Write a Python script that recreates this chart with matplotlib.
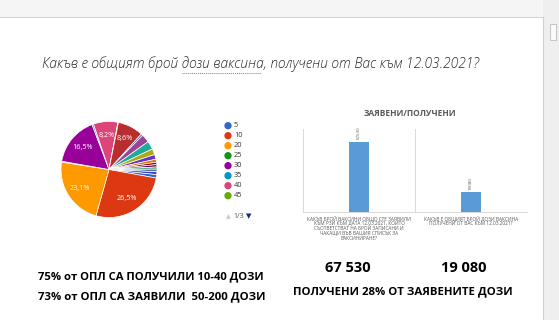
import matplotlib
matplotlib.use("Agg")
import matplotlib.pyplot as plt
from matplotlib.patches import Rectangle
from matplotlib.lines import Line2D

W, H = 559, 320
plt.rcParams['font.family'] = ['Open Sans', 'DejaVu Sans']

# pie: share of GPs (%) by number of doses received, clockwise order
pie_values = [1.2, 26.5, 23.1, 0.3, 16.5, 0.5, 8.2, 0.2, 8.6, 0.6, 2.8, 2.8,
              2.0, 1.6, 1.0, 0.8, 0.8, 0.7, 0.9, 0.9]
pie_colors = ['#3366cc', '#dc3912', '#ff9900', '#109618', '#990099', '#0099c6',
              '#dd4477', '#66aa00', '#b82e2e', '#316395', '#994499', '#22aa99',
              '#aaaa11', '#6633cc', '#e67300', '#8b0707', '#651067', '#329262',
              '#5574a6', '#3b3eac']
legend_labels = ['5', '10', '20', '25', '30', '35', '40', '45']

# bar chart: requested vs received doses
bar_cats = ['КАКЪВ БРОЙ ВАКСИНИ ОБЩО СТЕ ЗАЯВИЛИ\nКЪМ РЗИ КЪМ ДАТА 12.03.2021, КОИТО\n'
            'СЪОТВЕТСТВАТ НА БРОЙ ЗАПИСАНИ И\nЧАКАЩИ ВЪВ ВАШИЯ СПИСЪК ЗА\nВАКСИНИРАНЕ?',
            'КАКЪВ Е ОБЩИЯТ БРОЙ ДОЗИ ВАКСИНА\nПОЛУЧЕНИ ОТ ВАС КЪМ 12.03.2021?']
bar_values = [67530, 19080]

question = 'Какъв е общият брой дози ваксина, получени от Вас към 12.03.2021?'
left_lines = ['75% от ОПЛ СА ПОЛУЧИЛИ 10-40 ДОЗИ', '73% от ОПЛ СА ЗАЯВИЛИ  50-200 ДОЗИ']
totals = ['67 530', '19 080']
summary = 'ПОЛУЧЕНИ 28% ОТ ЗАЯВЕНИТЕ ДОЗИ'


def fx(px):
    return px / W


def fy(py):
    return 1 - py / H


fig = plt.figure(figsize=(W / 100, H / 100), dpi=100)
renderer = fig.canvas.get_renderer()


def fit(t, width):
    w = t.get_window_extent(renderer).width
    t.set_fontsize(t.get_fontsize() * width / w)


# window frame (top band, right scroll area)
fig.add_artist(Rectangle((0, fy(17)), 1, 17 / H, transform=fig.transFigure,
                         facecolor='#f5f5f5', edgecolor='none'))
fig.add_artist(Line2D([0, fx(543)], [fy(17), fy(17)], transform=fig.transFigure,
                      color='#d6d6d6', lw=0.8))
fig.add_artist(Rectangle((fx(543), 0), (W - 543) / W, 1, transform=fig.transFigure,
                         facecolor='#efefef', edgecolor='none'))
fig.add_artist(Line2D([fx(543), fx(543)], [0, fy(17)], transform=fig.transFigure,
                      color='#d0d0d0', lw=0.8))
fig.add_artist(Rectangle((fx(550), fy(40)), 6 / W, 16 / H, transform=fig.transFigure,
                         facecolor='#fafafa', edgecolor='#bdbdbd', lw=0.6))

# question
t = fig.text(fx(260), fy(64), question, style='italic', fontweight='light',
             fontsize=9, color='#2b2b2b', ha='center', va='center')
fit(t, 439)
fig.add_artist(Line2D([fx(182), fx(261)], [fy(72.5), fy(72.5)], transform=fig.transFigure,
                      color='#e05050', lw=0.7, ls=(0, (1, 1))))

# pie
ax = fig.add_axes([fx(61), fy(217.5), 96 / W, 96 / H])
ax.pie(pie_values, colors=pie_colors, startangle=-6, counterclock=False,
       wedgeprops=dict(edgecolor='white', linewidth=0.5),
       autopct=lambda p: f'{p:.1f}%'.replace('.', ',') if p > 5 else '',
       pctdistance=0.72, textprops=dict(color='white', fontsize=5.2))
ax.set_xlim(-1, 1)
ax.set_ylim(-1, 1)

# pie legend (page 1/3)
lx = fig.add_axes([fx(220), fy(200.7), 50 / W, 80 / H])
lx.axis('off')
lx.set_xlim(0, 50)
lx.set_ylim(len(legend_labels) - 0.5, -0.5)
lx.scatter([8] * len(legend_labels), range(len(legend_labels)),
           c=pie_colors[:len(legend_labels)], s=18)
for i, lab in enumerate(legend_labels):
    lx.text(14, i, lab, fontsize=5.3, color='#333333', va='center')
fig.text(fx(228), fy(216.5), '▲', fontsize=4.5, color='#c8c8c8', ha='center', va='center')
fig.text(fx(239), fy(216.5), '1/3', fontsize=5, color='#555555', ha='center', va='center')
fig.text(fx(249), fy(216.5), '▼', fontsize=5, color='#1a237e', ha='center', va='center')

# bar chart
bx = fig.add_axes([fx(303), fy(212), 224 / W, 83.5 / H])
bx.bar(range(len(bar_values)), bar_values, width=0.18, color='#5b9bd5')
bx.set_xlim(-0.5, len(bar_values) - 0.5)
bx.set_ylim(0, 80000)
for s in ['top', 'right', 'left']:
    bx.spines[s].set_visible(False)
bx.spines['bottom'].set_color('#d9d9d9')
bx.spines['bottom'].set_linewidth(0.7)
for x in [-0.5, 0.5, 1.5]:
    bx.axvline(x, color='#d9d9d9', lw=0.7)
bx.set_yticks([])
bx.set_xticks(range(len(bar_values)))
bx.set_xticklabels(bar_cats, fontsize=3.4, color='#595959', linespacing=0.95)
bx.tick_params(axis='x', length=0, pad=2.5)
for i, v in enumerate(bar_values):
    bx.text(i, v + 2000, str(v), rotation=90, ha='center', va='bottom',
            fontsize=3.2, color='#595959')
fig.text(fx(410), fy(114), 'ЗАЯВЕНИ/ПОЛУЧЕНИ', fontsize=6, fontweight='bold',
         color='#595959', ha='center', va='center')

# bottom notes
for line, y in zip(left_lines, [277, 297]):
    t = fig.text(fx(38), fy(y), line, fontsize=7.5, fontweight='bold',
                 color='black', ha='left', va='center')
    fit(t, 227)
for txt, x in zip(totals, [348, 464]):
    t = fig.text(fx(x), fy(268), txt, fontsize=8.5, fontweight='bold',
                 color='black', ha='center', va='center')
    fit(t, 45)
t = fig.text(fx(403), fy(292), summary, fontsize=7.5, fontweight='bold',
             color='black', ha='center', va='center')
fit(t, 218)

fig.savefig('out.png', dpi=100)
